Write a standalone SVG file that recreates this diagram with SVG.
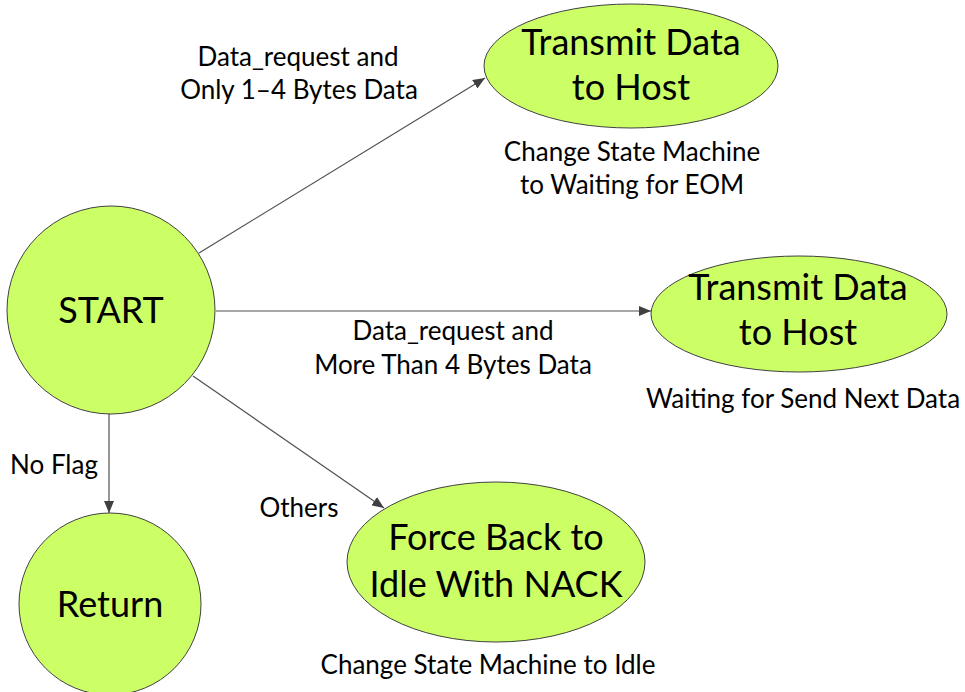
<svg xmlns="http://www.w3.org/2000/svg" width="965" height="692" viewBox="0 0 965 692">
  <style>
    .state { fill: #ccff66; stroke: #404040; stroke-width: 1; }
    .big { font-family: Lato, "Open Sans", sans-serif; font-size: 36px; fill: #000; text-anchor: middle; }
    .lbl { font-family: Lato, "Open Sans", sans-serif; font-size: 26px; fill: #000; text-anchor: middle; }
    .edge { stroke: #505050; stroke-width: 1.2; fill: none; marker-end: url(#arrow); }
  </style>
  <defs>
    <marker id="arrow" viewBox="0 0 12 10" refX="12" refY="5" markerWidth="12" markerHeight="10" markerUnits="userSpaceOnUse" orient="auto">
      <path d="M0,0 L12,5 L0,10 Z" fill="#404040"/>
    </marker>
  </defs>

  <!-- transitions -->
  <g id="connectors">
    <line class="edge" x1="199" y1="253" x2="485" y2="78"/>
    <line class="edge" x1="216" y1="311" x2="651" y2="311"/>
    <line class="edge" x1="193" y1="376" x2="384" y2="508"/>
    <line class="edge" x1="109" y1="414" x2="109" y2="513"/>
    <text class="lbl" x="298" y="66">Data_request and</text>
    <text class="lbl" x="299" y="99">Only 1–4 Bytes Data</text>
    <text class="lbl" x="453" y="340">Data_request and</text>
    <text class="lbl" x="453" y="374">More Than 4 Bytes Data</text>
    <text class="lbl" x="54" y="474">No Flag</text>
    <text class="lbl" x="299" y="517">Others</text>
  </g>

  <g id="start">
    <circle class="state" cx="111" cy="310" r="104"/>
    <text class="big" x="111" y="323">START</text>
  </g>

  <g id="transmit-short">
    <ellipse class="state" cx="631" cy="66" rx="147" ry="62"/>
    <text class="big" x="631" y="55">Transmit Data</text>
    <text class="big" x="631" y="100">to Host</text>
    <text class="lbl" x="632" y="161">Change State Machine</text>
    <text class="lbl" x="632" y="194">to Waiting for EOM</text>
  </g>

  <g id="transmit-long">
    <ellipse class="state" cx="799" cy="314" rx="148" ry="58"/>
    <text class="big" x="798" y="300">Transmit Data</text>
    <text class="big" x="798" y="345">to Host</text>
    <text class="lbl" x="803" y="408">Waiting for Send Next Data</text>
  </g>

  <g id="force-idle">
    <ellipse class="state" cx="496" cy="562" rx="149" ry="80"/>
    <text class="big" x="496" y="550">Force Back to</text>
    <text class="big" x="496" y="597">Idle With NACK</text>
    <text class="lbl" x="488" y="674">Change State Machine to Idle</text>
  </g>

  <g id="return">
    <circle class="state" cx="110" cy="604" r="91"/>
    <text class="big" x="110" y="617">Return</text>
  </g>
</svg>
